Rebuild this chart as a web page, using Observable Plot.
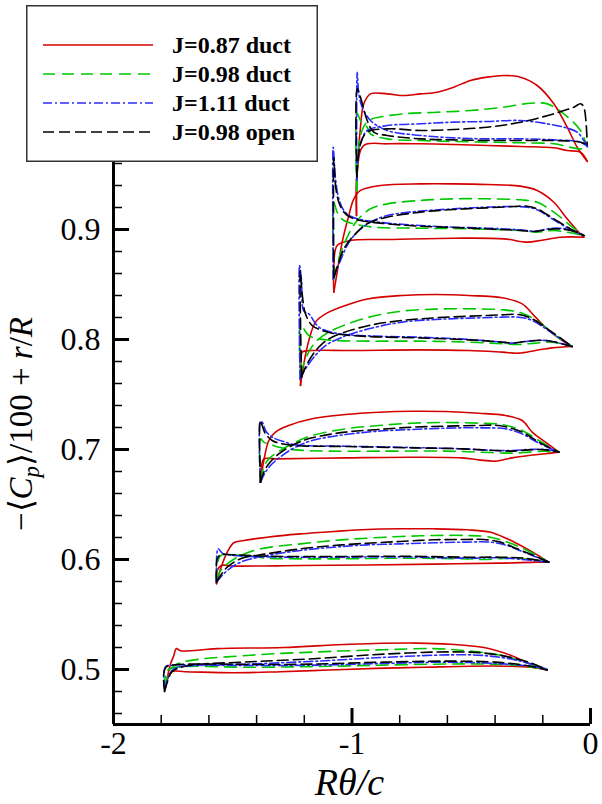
<!DOCTYPE html>
<html><head><meta charset="utf-8">
<script src="https://cdn.jsdelivr.net/npm/d3@7"></script>
<script src="https://cdn.jsdelivr.net/npm/@observablehq/plot@0.6"></script>
<style>
body{margin:0;background:#fff;}
#wrap{position:relative;width:602px;height:804px;overflow:hidden;}
#legend{position:absolute;left:26px;top:5px;}
</style></head><body><div id="wrap"></div>
<script>
// ---- series meta ----
const seriesNames = ["J=0.87 duct", "J=0.98 duct", "J=1.11 duct", "J=0.98 open"];
const seriesColors = ["#d40000", "#00c800", "#2b2bff", "#000000"];
const seriesDash = [null, "12,7", "9,3,2,3", "11,5"];

// ---- axes ----
const xDomain = [-2, 0];
const yDomain = [0.45, 1.1];
const xMajorTicks = [-2, -1, 0];
const xMinorTicks = [-1.8, -1.6, -1.4, -1.2, -0.8, -0.6, -0.4, -0.2];
const yMajorTicks = [0.5, 0.6, 0.7, 0.8, 0.9, 1.0];
const yMinorTicks = [0.46, 0.48, 0.52, 0.54, 0.56, 0.58, 0.62, 0.64, 0.66, 0.68, 0.72, 0.74, 0.76, 0.78, 0.82, 0.84, 0.86, 0.88, 0.92, 0.94, 0.96, 0.98, 1.02, 1.04, 1.06, 1.08];

// ---- data rows: [station, R*theta/c, -<Cp>/100 + r/R] ----
const redUpper = [
[1,-1.782,0.484],[1,-1.761,0.505],[1,-1.748,0.512],[1,-1.736,0.519],[1,-1.719,0.517],[1,-1.565,0.519],[1,-1.286,0.520],[1,-1.006,0.523],[1,-0.727,0.524],[1,-0.587,0.523],[1,-0.447,0.520],[1,-0.335,0.513],[1,-0.252,0.505],[1,-0.182,0.4995],
[2,-1.568,0.578],[2,-1.551,0.5915],[2,-1.523,0.6067],[2,-1.4955,0.6152],[2,-1.4535,0.6173],[2,-1.3557,0.6203],[2,-1.216,0.6233],[2,-1.076,0.6255],[2,-0.936,0.6273],[2,-0.797,0.6279],[2,-0.657,0.6279],[2,-0.517,0.627],[2,-0.419,0.6248],[2,-0.349,0.6188],[2,-0.2795,0.6112],[2,-0.2236,0.6042],[2,-0.1747,0.5976],
[3,-1.3836,0.6703],[3,-1.3697,0.69],[3,-1.3487,0.7082],[3,-1.3208,0.7158],[3,-1.2649,0.7218],[3,-1.167,0.7279],[3,-1.0273,0.7318],[3,-0.8875,0.7339],[3,-0.7477,0.7348],[3,-0.608,0.7345],[3,-0.4682,0.733],[3,-0.3564,0.7309],[3,-0.2865,0.7264],[3,-0.2446,0.7158],[3,-0.1887,0.7067],[3,-0.1328,0.6976],
[4,-1.2159,0.7582],[4,-1.202,0.7779],[4,-1.181,0.7991],[4,-1.153,0.8158],[4,-1.1111,0.8233],[4,-1.0273,0.8309],[4,-0.9294,0.837],[4,-0.7896,0.84],[4,-0.6499,0.8409],[4,-0.5101,0.84],[4,-0.3704,0.8379],[4,-0.2865,0.8324],[4,-0.2306,0.8203],[4,-0.1747,0.8082],[4,-0.1188,0.7991],[4,-0.0769,0.7936],
[5,-1.0762,0.843],[5,-1.0622,0.8612],[5,-1.0412,0.8885],[5,-1.0133,0.9127],[5,-0.9923,0.9279],[5,-0.9644,0.9355],[5,-0.8805,0.94],[5,-0.7128,0.9415],[5,-0.573,0.9415],[5,-0.4333,0.9409],[5,-0.2935,0.9394],[5,-0.2236,0.9355],[5,-0.1537,0.9248],[5,-0.0978,0.9097],[5,-0.0559,0.8991],[5,-0.028,0.893],
[6,-0.981,0.9127],[6,-0.9782,0.9536],[6,-0.9644,0.993],[6,-0.9505,1.0143],[6,-0.9224,1.0233],[6,-0.8524,1.0233],[6,-0.7828,1.0218],[6,-0.7128,1.0233],[6,-0.6428,1.0248],[6,-0.5732,1.0294],[6,-0.5031,1.0355],[6,-0.4331,1.0385],[6,-0.3635,1.04],[6,-0.2935,1.0385],[6,-0.2235,1.0309],[6,-0.1539,1.0143],[6,-0.0977,0.993],[6,-0.0558,0.9748],[6,-0.0138,0.962]
];
const redLower = [
[1,-1.782,0.484],[1,-1.772,0.492],[1,-1.755,0.498],[1,-1.70,0.498],[1,-1.5,0.497],[1,-1.3,0.498],[1,-1.1,0.4995],[1,-0.9,0.501],[1,-0.7,0.502],[1,-0.5,0.503],[1,-0.35,0.503],[1,-0.25,0.502],[1,-0.182,0.4995],
[2,-1.568,0.578],[2,-1.565,0.590],[2,-1.548,0.5945],[2,-1.4955,0.594],[2,-1.216,0.5945],[2,-0.936,0.595],[2,-0.657,0.5958],[2,-0.38,0.5967],[2,-0.2236,0.5976],[2,-0.1747,0.5976],
[3,-1.3836,0.6703],[3,-1.3795,0.6839],[3,-1.3697,0.6915],[3,-1.3208,0.6915],[3,-1.0273,0.6924],[3,-0.7477,0.693],[3,-0.5381,0.6924],[3,-0.4682,0.6906],[3,-0.3983,0.6894],[3,-0.3284,0.6924],[3,-0.2586,0.6945],[3,-0.1887,0.6961],[3,-0.1328,0.6976],
[4,-1.2159,0.7582],[4,-1.2131,0.7809],[4,-1.2089,0.7885],[4,-1.167,0.79],[4,-0.9993,0.79],[4,-0.7198,0.7906],[4,-0.5101,0.79],[4,-0.3704,0.7885],[4,-0.3005,0.7876],[4,-0.2306,0.79],[4,-0.1607,0.7924],[4,-0.0769,0.7936],
[5,-1.0762,0.843],[5,-1.0762,0.8673],[5,-1.0622,0.8855],[5,-1.0063,0.89],[5,-0.8525,0.8909],[5,-0.573,0.8921],[5,-0.3634,0.8915],[5,-0.2655,0.8885],[5,-0.2096,0.89],[5,-0.1258,0.893],[5,-0.028,0.893],
[6,-0.981,0.9127],[6,-0.979,0.950],[6,-0.9505,0.9764],[6,-0.8524,0.9779],[6,-0.7128,0.9779],[6,-0.5732,0.9773],[6,-0.4331,0.9764],[6,-0.2935,0.9755],[6,-0.1539,0.9743],[6,-0.0977,0.9718],[6,-0.0419,0.9703],[6,-0.0138,0.962]
];
const greenUpper = [
[1,-1.785,0.483],[1,-1.775,0.493],[1,-1.755,0.502],[1,-1.705,0.507],[1,-1.426,0.513],[1,-1.146,0.516],[1,-0.867,0.518],[1,-0.657,0.519],[1,-0.517,0.517],[1,-0.377,0.513],[1,-0.280,0.507],[1,-0.182,0.500],
[2,-1.568,0.581],[2,-1.551,0.590],[2,-1.523,0.596],[2,-1.4675,0.6036],[2,-1.3836,0.6097],[2,-1.216,0.6142],[2,-1.076,0.6173],[2,-0.936,0.6194],[2,-0.797,0.6209],[2,-0.657,0.6218],[2,-0.517,0.6218],[2,-0.419,0.6203],[2,-0.349,0.6158],[2,-0.2795,0.6097],[2,-0.1747,0.5976],
[3,-1.3836,0.671],[3,-1.3697,0.6839],[3,-1.3487,0.6915],[3,-1.3068,0.6982],[3,-1.2369,0.7067],[3,-1.167,0.7127],[3,-1.0273,0.7188],[3,-0.8875,0.7218],[3,-0.7477,0.7239],[3,-0.608,0.7245],[3,-0.4682,0.7239],[3,-0.3704,0.7227],[3,-0.2865,0.7173],[3,-0.2166,0.7082],[3,-0.1328,0.6976],
[4,-1.2159,0.7688],[4,-1.202,0.7779],[4,-1.174,0.7915],[4,-1.139,0.8006],[4,-1.0692,0.8097],[4,-0.9294,0.8203],[4,-0.7896,0.8258],[4,-0.6499,0.8276],[4,-0.5101,0.8279],[4,-0.3704,0.827],[4,-0.2865,0.8239],[4,-0.2166,0.8158],[4,-0.1468,0.8036],[4,-0.0769,0.7936],
[5,-1.0762,0.8552],[5,-1.0552,0.8733],[5,-1.0203,0.893],[5,-0.9783,0.9082],[5,-0.9224,0.9188],[5,-0.8525,0.9233],[5,-0.7128,0.9264],[5,-0.573,0.9279],[5,-0.4333,0.9279],[5,-0.2935,0.927],[5,-0.2236,0.9248],[5,-0.1537,0.9158],[5,-0.0839,0.9036],[5,-0.028,0.8945],
[6,-0.980,0.935],[6,-0.972,0.975],[6,-0.958,0.990],[6,-0.943,0.9961],[6,-0.915,1.0006],[6,-0.887,1.0021],[6,-0.7828,1.0052],[6,-0.6428,1.0066],[6,-0.5031,1.0082],[6,-0.3635,1.0112],[6,-0.2516,1.0148],[6,-0.1815,1.0142],[6,-0.1119,1.0052],[6,-0.0419,0.99],[6,-0.0138,0.975]
];
const greenLower = [
[1,-1.785,0.483],[1,-1.782,0.495],[1,-1.77,0.500],[1,-1.72,0.5025],[1,-1.426,0.502],[1,-1.146,0.5027],[1,-0.867,0.504],[1,-0.587,0.505],[1,-0.447,0.505],[1,-0.30,0.5036],[1,-0.182,0.500],
[2,-1.568,0.581],[2,-1.566,0.594],[2,-1.551,0.6036],[2,-1.51,0.6042],[2,-1.425,0.603],[2,-1.356,0.6012],[2,-1.076,0.6006],[2,-0.797,0.6012],[2,-0.517,0.6006],[2,-0.447,0.600],[2,-0.31,0.6012],[2,-0.1747,0.5976],
[3,-1.3836,0.671],[3,-1.3836,0.7097],[3,-1.3697,0.7067],[3,-1.3487,0.7052],[3,-1.3068,0.7021],[3,-1.2369,0.6997],[3,-1.0971,0.6985],[3,-0.8875,0.6985],[3,-0.608,0.6985],[3,-0.4682,0.6976],[3,-0.3284,0.6967],[3,-0.2586,0.6976],[3,-0.1887,0.6985],[3,-0.1328,0.6976],
[4,-1.2159,0.7688],[4,-1.2159,0.8145],[4,-1.202,0.8097],[4,-1.181,0.8036],[4,-1.139,0.8006],[4,-1.0692,0.7991],[4,-0.9294,0.7985],[4,-0.7198,0.7985],[4,-0.5101,0.7976],[4,-0.3704,0.7961],[4,-0.3005,0.7955],[4,-0.2306,0.7967],[4,-0.1607,0.7976],[4,-0.0769,0.7936],
[5,-1.0762,0.8552],[5,-1.0762,0.9248],[5,-1.0622,0.9158],[5,-1.0342,0.9082],[5,-0.9923,0.9052],[5,-0.9085,0.9021],[5,-0.7128,0.9012],[5,-0.5031,0.9006],[5,-0.2935,0.8991],[5,-0.2236,0.8976],[5,-0.1537,0.8991],[5,-0.028,0.8945],
[6,-0.980,0.935],[6,-0.979,1.006],[6,-0.9644,0.9991],[6,-0.9363,0.993],[6,-0.9224,0.987],[6,-0.8524,0.9824],[6,-0.7128,0.9809],[6,-0.5732,0.980],[6,-0.4331,0.9794],[6,-0.2935,0.9788],[6,-0.1539,0.9779],[6,-0.0419,0.9733],[6,-0.0138,0.975]
];
const blueUpper = [
[1,-1.785,0.482],[1,-1.77,0.493],[1,-1.75,0.500],[1,-1.70,0.503],[1,-1.426,0.505],[1,-1.146,0.5076],[1,-0.867,0.511],[1,-0.587,0.5133],[1,-0.447,0.5127],[1,-0.30,0.508],[1,-0.182,0.500],
[2,-1.568,0.5794],[2,-1.551,0.5839],[2,-1.523,0.590],[2,-1.467,0.5976],[2,-1.356,0.6036],[2,-1.216,0.6082],[2,-1.076,0.6112],[2,-0.936,0.6133],[2,-0.797,0.6142],[2,-0.657,0.6152],[2,-0.517,0.6158],[2,-0.419,0.6158],[2,-0.349,0.6127],[2,-0.2795,0.6067],[2,-0.1747,0.5976],
[3,-1.3836,0.6703],[3,-1.3627,0.6794],[3,-1.3347,0.687],[3,-1.2928,0.6945],[3,-1.2369,0.7021],[3,-1.167,0.7082],[3,-1.0273,0.7136],[3,-0.8875,0.7167],[3,-0.7477,0.7182],[3,-0.608,0.7194],[3,-0.4682,0.7197],[3,-0.3564,0.7188],[3,-0.2865,0.7142],[3,-0.2166,0.7058],[3,-0.1328,0.6976],
[4,-1.2180,0.764],[4,-1.195,0.7733],[4,-1.16,0.7839],[4,-1.111,0.7945],[4,-1.0412,0.8021],[4,-0.9294,0.8097],[4,-0.7896,0.8158],[4,-0.6499,0.8182],[4,-0.5101,0.8194],[4,-0.3704,0.8203],[4,-0.3005,0.8203],[4,-0.2446,0.8173],[4,-0.1607,0.8058],[4,-0.0769,0.7936],
[5,-1.079,0.855],[5,-1.0482,0.8718],[5,-1.0203,0.8855],[5,-0.9783,0.8976],[5,-0.9224,0.9067],[5,-0.8525,0.9127],[5,-0.7128,0.9167],[5,-0.573,0.9188],[5,-0.4333,0.9203],[5,-0.3215,0.9209],[5,-0.2655,0.9203],[5,-0.2236,0.9179],[5,-0.1537,0.9088],[5,-0.0839,0.900],[5,-0.028,0.8945],
[6,-0.980,0.945],[6,-0.972,0.970],[6,-0.955,0.984],[6,-0.9363,0.99],[6,-0.8524,0.9945],[6,-0.7128,0.9961],[6,-0.5732,0.9976],[6,-0.4331,0.9982],[6,-0.2935,0.9991],[6,-0.1815,0.9961],[6,-0.1119,0.993],[6,-0.0558,0.9885],[6,-0.0281,0.9809],[6,-0.0126,0.9755]
];
const blueLower = [
[1,-1.785,0.482],[1,-1.789,0.497],[1,-1.78,0.503],[1,-1.75,0.504],[1,-1.6,0.504],[1,-1.426,0.5036],[1,-1.146,0.504],[1,-0.867,0.5055],[1,-0.587,0.5067],[1,-0.40,0.5055],[1,-0.25,0.503],[1,-0.182,0.500],
[2,-1.568,0.5794],[2,-1.566,0.6067],[2,-1.561,0.6097],[2,-1.54,0.6052],[2,-1.4955,0.6036],[2,-1.356,0.6024],[2,-1.076,0.6021],[2,-0.797,0.6024],[2,-0.517,0.6012],[2,-0.377,0.6015],[2,-0.1747,0.5976],
[3,-1.3836,0.6703],[3,-1.3836,0.7258],[3,-1.3738,0.7239],[3,-1.3627,0.7173],[3,-1.3347,0.7112],[3,-1.2788,0.7067],[3,-1.2369,0.7042],[3,-1.0273,0.703],[3,-0.7477,0.7018],[3,-0.5381,0.7006],[3,-0.3983,0.6991],[3,-0.3284,0.6991],[3,-0.2586,0.700],[3,-0.1887,0.700],[3,-0.1328,0.6976],
[4,-1.2180,0.764],[4,-1.2201,0.8673],[4,-1.2117,0.8536],[4,-1.202,0.8258],[4,-1.181,0.8233],[4,-1.139,0.8112],[4,-1.0692,0.8058],[4,-0.9294,0.8033],[4,-0.7198,0.8021],[4,-0.5101,0.800],[4,-0.3704,0.7976],[4,-0.3284,0.7967],[4,-0.2725,0.7982],[4,-0.1887,0.7991],[4,-0.0769,0.7936],
[5,-1.079,0.855],[5,-1.079,0.9748],[5,-1.0692,0.9461],[5,-1.0552,0.9279],[5,-1.0342,0.9173],[5,-1.0063,0.9121],[5,-0.9644,0.9091],[5,-0.8525,0.9058],[5,-0.7128,0.9036],[5,-0.573,0.9021],[5,-0.4333,0.9012],[5,-0.2935,0.8997],[5,-0.2376,0.8985],[5,-0.1537,0.9012],[5,-0.0839,0.8997],[5,-0.028,0.8945],
[6,-0.980,0.945],[6,-0.9782,1.043],[6,-0.9715,1.0234],[6,-0.9572,1.0112],[6,-0.9224,0.9991],[6,-0.8524,0.99],[6,-0.7128,0.9855],[6,-0.5732,0.9833],[6,-0.4331,0.9824],[6,-0.2935,0.9824],[6,-0.1539,0.9815],[6,-0.0419,0.9794],[6,-0.0126,0.9755]
];
const blackUpper = [
[1,-1.786,0.480],[1,-1.772,0.490],[1,-1.755,0.498],[1,-1.70,0.503],[1,-1.426,0.507],[1,-1.146,0.510],[1,-0.867,0.514],[1,-0.587,0.516],[1,-0.447,0.515],[1,-0.335,0.511],[1,-0.238,0.505],[1,-0.182,0.4995],
[2,-1.568,0.5794],[2,-1.551,0.5855],[2,-1.523,0.593],[2,-1.467,0.6006],[2,-1.356,0.6052],[2,-1.216,0.6097],[2,-1.076,0.6127],[2,-0.936,0.6148],[2,-0.797,0.6164],[2,-0.657,0.6179],[2,-0.517,0.6182],[2,-0.447,0.6182],[2,-0.3774,0.6158],[2,-0.3075,0.6097],[2,-0.2376,0.6036],[2,-0.1747,0.5976],
[3,-1.3836,0.6703],[3,-1.3697,0.6794],[3,-1.3487,0.687],[3,-1.3068,0.6961],[3,-1.2369,0.7052],[3,-1.167,0.7106],[3,-1.0273,0.7158],[3,-0.8875,0.7182],[3,-0.7477,0.7203],[3,-0.608,0.7212],[3,-0.4682,0.7218],[3,-0.3844,0.7218],[3,-0.2865,0.7158],[3,-0.2166,0.7067],[3,-0.1328,0.6976],
[4,-1.2117,0.7658],[4,-1.195,0.7748],[4,-1.167,0.7855],[4,-1.1251,0.7961],[4,-1.0692,0.8036],[4,-0.9294,0.8127],[4,-0.7896,0.8173],[4,-0.6499,0.8197],[4,-0.5101,0.8212],[4,-0.3704,0.8224],[4,-0.3005,0.8227],[4,-0.2446,0.8188],[4,-0.1607,0.8067],[4,-0.0769,0.7936],
[5,-1.0762,0.8567],[5,-1.0552,0.8703],[5,-1.0342,0.8824],[5,-0.9923,0.8945],[5,-0.9364,0.9052],[5,-0.8525,0.9112],[5,-0.7128,0.9158],[5,-0.573,0.9182],[5,-0.4333,0.9197],[5,-0.3215,0.9209],[5,-0.2655,0.9212],[5,-0.2236,0.9188],[5,-0.1537,0.9097],[5,-0.0839,0.9006],[5,-0.028,0.8945],
[6,-0.980,0.948],[6,-0.9644,0.9779],[6,-0.9363,0.9885],[6,-0.8524,0.9915],[6,-0.7128,0.990],[6,-0.5732,0.9909],[6,-0.4331,0.993],[6,-0.2935,0.9975],[6,-0.1539,1.0052],[6,-0.070,1.0112],[6,-0.0419,1.0143],[6,-0.0281,1.0112],[6,-0.0138,0.977]
];
const blackLower = [
[1,-1.786,0.480],[1,-1.790,0.495],[1,-1.78,0.502],[1,-1.75,0.504],[1,-1.6,0.505],[1,-1.426,0.5045],[1,-1.146,0.505],[1,-0.867,0.5067],[1,-0.587,0.5076],[1,-0.40,0.5067],[1,-0.25,0.503],[1,-0.182,0.4995],
[2,-1.568,0.5794],[2,-1.565,0.6006],[2,-1.551,0.6042],[2,-1.4955,0.6042],[2,-1.356,0.603],[2,-1.076,0.6027],[2,-0.797,0.603],[2,-0.517,0.6021],[2,-0.377,0.6021],[2,-0.279,0.6012],[2,-0.1747,0.5976],
[3,-1.3836,0.6703],[3,-1.385,0.7264],[3,-1.3766,0.7218],[3,-1.3627,0.7142],[3,-1.3347,0.7082],[3,-1.3068,0.7058],[3,-1.2369,0.7036],[3,-1.0273,0.7027],[3,-0.7477,0.7015],[3,-0.5381,0.7006],[3,-0.3983,0.6991],[3,-0.3284,0.6985],[3,-0.2586,0.6997],[3,-0.1887,0.6997],[3,-0.1328,0.6976],
[4,-1.2117,0.7658],[4,-1.2173,0.8627],[4,-1.2089,0.8415],[4,-1.195,0.8233],[4,-1.167,0.8127],[4,-1.1251,0.8082],[4,-1.0692,0.8052],[4,-0.9294,0.8027],[4,-0.7198,0.8015],[4,-0.5101,0.7997],[4,-0.3704,0.7976],[4,-0.3284,0.7967],[4,-0.2725,0.7982],[4,-0.1887,0.7991],[4,-0.0769,0.7936],
[5,-1.0762,0.8567],[5,-1.0762,0.9657],[5,-1.0692,0.940],[5,-1.0552,0.9248],[5,-1.0342,0.9158],[5,-1.0063,0.9112],[5,-0.9644,0.9082],[5,-0.8525,0.9052],[5,-0.7128,0.903],[5,-0.573,0.9018],[5,-0.4333,0.9006],[5,-0.2935,0.8991],[5,-0.2376,0.8982],[5,-0.1537,0.9006],[5,-0.0839,0.8991],[5,-0.028,0.8945],
[6,-0.980,0.948],[6,-0.9782,1.0279],[6,-0.9644,1.0203],[6,-0.9363,0.9991],[6,-0.9086,0.9885],[6,-0.8524,0.9855],[6,-0.7128,0.9824],[6,-0.5732,0.9815],[6,-0.4331,0.9809],[6,-0.2935,0.9809],[6,-0.1539,0.9809],[6,-0.0419,0.9794],[6,-0.0138,0.977]
];

const seriesData = [
  [redUpper, redLower],
  [greenUpper, greenLower],
  [blueUpper, blueLower],
  [blackUpper, blackLower]
];

// ---- layout ----
const W = 602, H = 804, mL = 113, mR = 12, mT = 9, mB = 80;
const innerW = W - mL - mR, innerH = H - mT - mB;
const serif = "'Liberation Serif', 'Times New Roman', Times, serif";

function rowsFor(i) {
  const out = [];
  seriesData[i].forEach((branch, b) => {
    branch.forEach(([s, x, y]) => out.push({series: seriesNames[i], key: s + "-" + b, x, y}));
  });
  return out;
}

const lineMarks = seriesNames.map((name, i) => Plot.line(rowsFor(i), {
  x: "x", y: "y", z: "key",
  stroke: seriesColors[i],
  strokeWidth: 1.6,
  strokeDasharray: seriesDash[i] || undefined,
  curve: "catmull-rom"
}));

const plot = Plot.plot({
  width: W, height: H,
  marginLeft: mL, marginRight: mR, marginTop: mT, marginBottom: mB,
  x: {domain: xDomain},
  y: {domain: yDomain},
  style: {fontFamily: serif, fontSize: "32px", background: "white", overflow: "visible", color: "black"},
  marks: [
    ...lineMarks,
    Plot.tickX(xMinorTicks, {x: d => d, insetTop: innerH - 9, strokeWidth: 1.5, stroke: "black"}),
    Plot.tickX(xMajorTicks, {x: d => d, insetTop: innerH - 16, strokeWidth: 3, stroke: "black"}),
    Plot.tickY(yMinorTicks, {y: d => d, insetRight: innerW - 9, strokeWidth: 1.5, stroke: "black"}),
    Plot.tickY(yMajorTicks, {y: d => d, insetRight: innerW - 16, strokeWidth: 3, stroke: "black"}),
    Plot.ruleX([xDomain[0]], {strokeWidth: 3, stroke: "black"}),
    Plot.ruleY([yDomain[0]], {strokeWidth: 3, stroke: "black"}),
    Plot.axisX({ticks: xMajorTicks, tickSize: 0, tickPadding: 7, tickFormat: d => String(d), label: null, fontSize: 32, fill: "black"}),
    Plot.axisY({ticks: yMajorTicks, tickSize: 0, tickPadding: 13, tickFormat: d => d.toFixed(1), label: null, fontSize: 32, fill: "black"})
  ]
});

const wrap = document.getElementById("wrap");
wrap.appendChild(plot);

const svg = d3.select(plot);
// x-axis title
svg.append("text")
  .attr("x", mL + innerW / 2 - 2).attr("y", 795)
  .attr("text-anchor", "middle")
  .attr("font-family", serif).attr("font-size", 38).attr("font-style", "italic").attr("fill", "black")
  .text("Rθ/c");

// y-axis title
const yt = svg.append("text")
  .attr("transform", "translate(32,424) rotate(-90)")
  .attr("text-anchor", "middle")
  .attr("font-family", serif).attr("font-size", 33).attr("fill", "black");
yt.append("tspan").text("−⟨");
yt.append("tspan").attr("font-style", "italic").text("C");
yt.append("tspan").attr("font-style", "italic").attr("font-size", 23).attr("dy", 7).text("p");
yt.append("tspan").attr("dy", -7).text("⟩/100 + ");
yt.append("tspan").attr("font-style", "italic").text("r");
yt.append("tspan").text("/");
yt.append("tspan").attr("font-style", "italic").text("R");

// legend (overlaid box, upper left)
const legW = 292, legH = 157;
const leg = d3.select(wrap).append("svg").attr("id", "legend")
  .attr("width", legW).attr("height", legH);
leg.append("rect").attr("x", 0.75).attr("y", 0.75).attr("width", legW - 1.5).attr("height", legH - 1.5)
  .attr("fill", "white").attr("stroke", "#333").attr("stroke-width", 1.5);
seriesNames.forEach((name, i) => {
  const y = 40 + 29 * i;
  leg.append("line").attr("x1", 17).attr("x2", 127).attr("y1", y).attr("y2", y)
    .attr("stroke", seriesColors[i]).attr("stroke-width", 1.6)
    .attr("stroke-dasharray", seriesDash[i]);
  leg.append("text").attr("x", 146).attr("y", y + 8)
    .attr("font-family", serif).attr("font-weight", "bold").attr("font-size", 24).attr("fill", "black")
    .text(name);
});
</script></body></html>
